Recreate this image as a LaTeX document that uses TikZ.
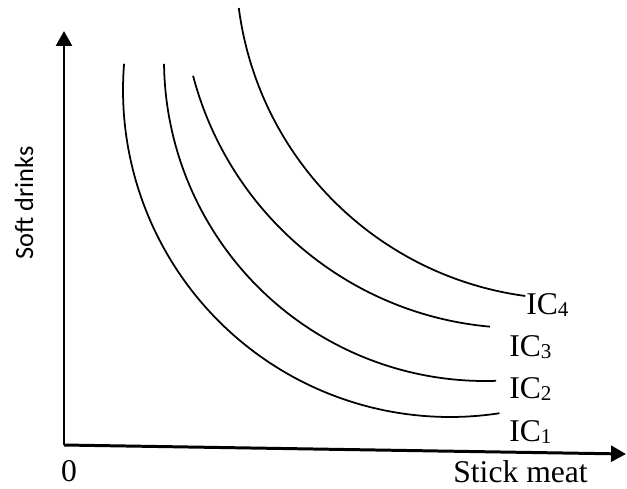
\documentclass[tikz,border=0pt]{standalone}
\usepackage{fontspec}
\setmainfont{Liberation Serif}
\newfontfamily\axisfont{Carlito}
\usetikzlibrary{arrows.meta,positioning}

\newcommand{\icsub}[1]{IC\raisebox{-1.2pt}{\fontsize{12}{12}\selectfont #1}}

\begin{document}
\begin{tikzpicture}[x=0.2mm, y=-0.2mm, >={Triangle[length=8.5pt,width=9pt]},
    axis/.style={line width=1.7pt},
    curve/.style={line width=1pt},
    every node/.style={inner sep=0pt, font=\fontsize{18}{20}\selectfont}]
  \useasboundingbox (0,0) rectangle (627,488);
  % axes
  \coordinate (O) at (64,445);
  \coordinate (ytip) at (64,31);
  \coordinate (xtip) at (626,454);
  \draw[axis,->] (O) -- (ytip);
  \draw[axis,->] (O) -- (xtip);
  \node[anchor=base] (zero) at (69,481) {0};
  \node[anchor=base west] (xlab) at (453,482) {Stick meat};
  \node[rotate=90, anchor=base, font=\axisfont\fontsize{15}{17}\selectfont] (ylab) at (33,203) {Soft drinks};
  % indifference curves (centres of the arcs)
  \coordinate (c1) at (450,90);
  \coordinate (c2) at (485,60);
  \coordinate (c3) at (520,-10);
  \coordinate (c4) at (570,-35);
  \draw[curve] ([shift={(184.6:327)}]c1) arc[start angle=184.6, end angle=81.3, radius=327];
  \draw[curve] ([shift={(179.3:321)}]c2) arc[start angle=179.3, end angle=88, radius=321];
  \draw[curve] ([shift={(165.3:338)}]c3) arc[start angle=165.3, end angle=95.1, radius=338];
  \draw[curve] ([shift={(172.6:334)}]c4) arc[start angle=172.6, end angle=97.7, radius=334];
  % labels
  \node[anchor=base west] (ic4) at (526,314) {\icsub{4}};
  \node[anchor=base west] (ic3) at (509,356) {\icsub{3}};
  \node[anchor=base west] (ic2) at (509,398) {\icsub{2}};
  \node[anchor=base west] (ic1) at (509,441) {\icsub{1}};
\end{tikzpicture}
\end{document}
